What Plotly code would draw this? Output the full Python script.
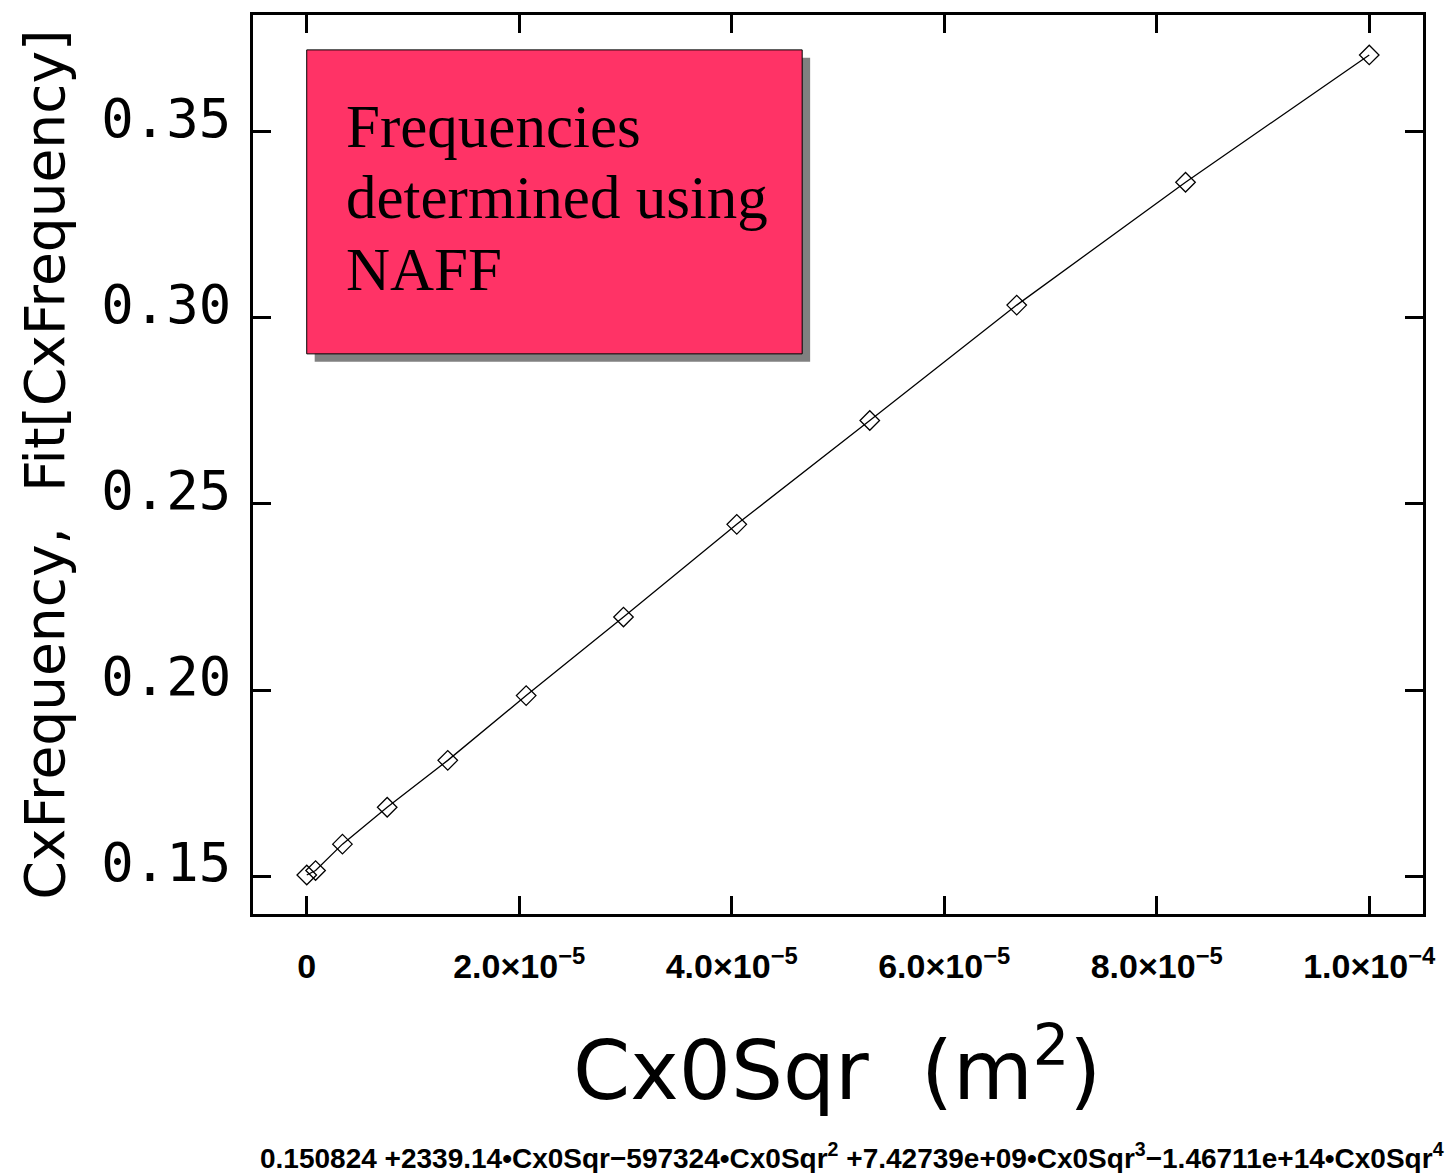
import plotly.graph_objects as go

# Data
cx0sqr = [0.0, 8.3e-7, 3.36e-6, 7.57e-6, 1.327e-5, 2.065e-5, 2.981e-5,
          4.047e-5, 5.299e-5, 6.682e-5, 8.271e-5, 1.0e-4]
cx_frequency = [0.1503, 0.1515, 0.1586, 0.1685, 0.1811, 0.1985, 0.2196,
                0.2445, 0.2724, 0.3034, 0.3364, 0.3706]

x_tickvals = [0, 2e-5, 4e-5, 6e-5, 8e-5, 1e-4]
x_ticktext = ["0", "2.0×10<sup>−5</sup>", "4.0×10<sup>−5</sup>", "6.0×10<sup>−5</sup>",
              "8.0×10<sup>−5</sup>", "1.0×10<sup>−4</sup>"]
y_tickvals = [0.15, 0.20, 0.25, 0.30, 0.35]
y_ticktext = ["0.15", "0.20", "0.25", "0.30", "0.35"]

box_lines = ["Frequencies", "determined using", "NAFF"]
fit_text = ("0.150824 +2339.14•Cx0Sqr−597324•Cx0Sqr<sup>2</sup> "
            "+7.42739e+09•Cx0Sqr<sup>3</sup>−1.46711e+14•Cx0Sqr<sup>4</sup>")

W, H = 1448, 1173
L, R, T, B = 253, 19, 12, 259
PW, PH = W - L - R, H - T - B


def px(x):
    return (x - L) / PW


def py(y):
    return (H - B - y) / PH


fig = go.Figure()
fig.add_trace(go.Scatter(
    x=cx0sqr, y=cx_frequency, mode="lines",
    line=dict(color="black", width=1.3), showlegend=False, hoverinfo="skip"))
fig.add_trace(go.Scatter(
    x=cx0sqr, y=cx_frequency, mode="markers",
    marker=dict(symbol="diamond-open", size=15, color="black", line=dict(width=1.3)),
    showlegend=False))

shapes = [
    dict(type="rect", xref="paper", yref="paper", x0=px(315), x1=px(813), y0=py(360), y1=py(55),
         fillcolor="#808080", line=dict(width=0), layer="above"),
    dict(type="rect", xref="paper", yref="paper", x0=px(307), x1=px(805), y0=py(352), y1=py(47),
         fillcolor="#FF3366", line=dict(color="black", width=1), layer="above"),
]

annotations = []
for txt, base in zip(box_lines, [147, 218, 290]):
    annotations.append(dict(
        text=txt, xref="paper", yref="paper", x=px(344), y=py(base - 23),
        xanchor="left", yanchor="middle", showarrow=False,
        font=dict(family="Liberation Serif", size=61, color="black")))

annotations.append(dict(
    text="CxFrequency,  Fit[CxFrequency]", xref="paper", yref="paper",
    x=px(43), y=py(463), textangle=-90, xanchor="center", yanchor="middle",
    showarrow=False, font=dict(family="DejaVu Sans", size=55, color="black")))
annotations.append(dict(
    text="Cx0Sqr  (m<sup>2</sup>)", xref="paper", yref="paper",
    x=px(840), y=py(1066), xanchor="center", yanchor="middle",
    showarrow=False, font=dict(family="DejaVu Sans", size=82, color="black")))
annotations.append(dict(
    text=fit_text, xref="paper", yref="paper",
    x=px(855), y=py(1157), xanchor="center", yanchor="middle",
    showarrow=False, font=dict(family="Liberation Sans", size=28, color="black", weight="bold")))

fig.update_layout(
    width=W, height=H,
    margin=dict(l=L, r=R, t=T, b=B, pad=0),
    paper_bgcolor="white", plot_bgcolor="white",
    shapes=shapes, annotations=annotations,
    xaxis=dict(range=[-5.06e-6, 1.0506e-4], tickvals=x_tickvals, ticktext=x_ticktext,
               showgrid=False, zeroline=False, showline=True, linecolor="black", linewidth=3,
               mirror="ticks", ticks="inside", ticklen=18, tickwidth=3, tickcolor="black",
               ticklabelstandoff=20,
               tickfont=dict(family="Liberation Sans", size=34, color="black", weight="bold")),
    yaxis=dict(range=[0.13983, 0.38133], tickvals=y_tickvals, ticktext=y_ticktext,
               showgrid=False, zeroline=False, showline=True, linecolor="black", linewidth=3,
               mirror="ticks", ticks="inside", ticklen=18, tickwidth=3, tickcolor="black",
               ticklabelstandoff=8, ticklabelshift=-14,
               tickfont=dict(family="DejaVu Sans Mono", size=54, color="black")),
)

fig.write_html("out.html")
